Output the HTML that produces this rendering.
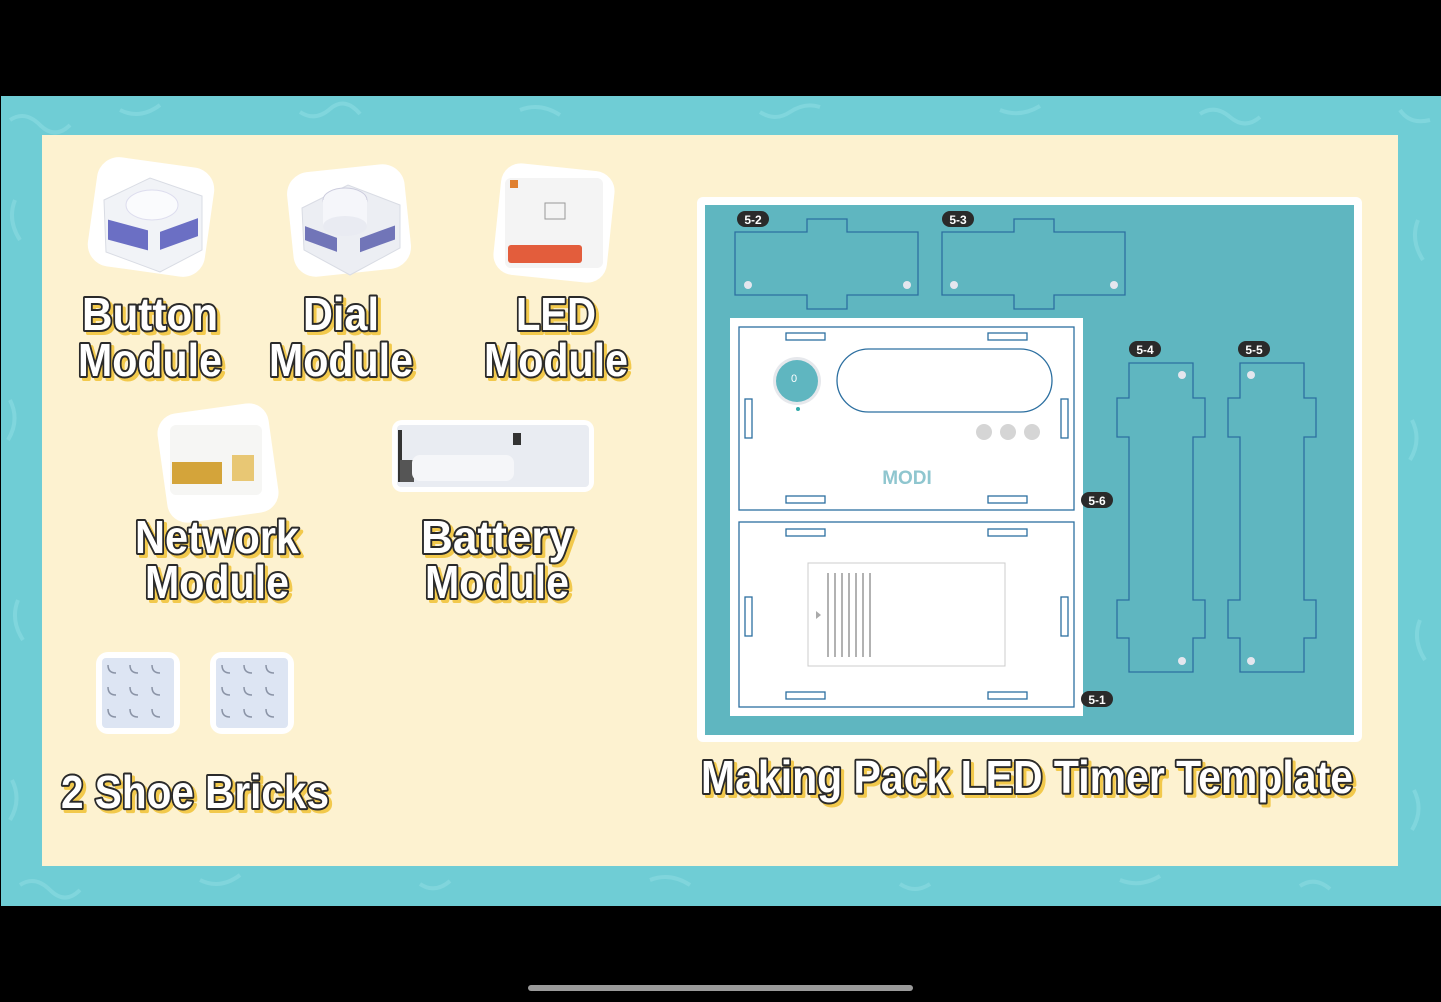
<!DOCTYPE html>
<html><head><meta charset="utf-8"><style>
html,body{margin:0;padding:0;background:#000;width:1441px;height:1002px;overflow:hidden}
svg{display:block}
.lb{font-family:"Liberation Sans Narrow","Liberation Sans",sans-serif;font-weight:bold;fill:#fff;stroke:#2a2a2a;stroke-width:4px;paint-order:stroke;stroke-linejoin:round}
.sh{font-family:"Liberation Sans Narrow","Liberation Sans",sans-serif;font-weight:bold;fill:#f2c94c;stroke:#f2c94c;stroke-width:4px;stroke-linejoin:round}
.tag{font-family:"Liberation Sans",sans-serif;font-weight:bold;font-size:12px;fill:#fff}
</style></head><body>
<svg width="1441" height="1002" viewBox="0 0 1441 1002" xmlns="http://www.w3.org/2000/svg">
<rect x="0" y="0" width="1441" height="1002" fill="#000"/>
<rect x="1" y="96" width="1440" height="810" fill="#6fcdd5"/>
<g stroke="#85d8de" stroke-width="4" fill="none" opacity="0.8">
<path d="M10 120 q15 -10 30 5 t30 0 M120 110 q20 10 40 -5 M300 112 q15 10 30 -3 t30 5 M520 110 q20 -8 40 5 M760 112 q15 10 30 0 t30 -5 M1000 110 q20 8 40 -4 M1200 114 q15 -10 30 3 t30 0 M1400 110 q10 15 30 10"/>
<path d="M20 885 q15 -10 30 5 t30 0 M200 880 q20 10 40 -5 M420 884 q15 10 30 -3 M650 880 q20 -8 40 5 M900 884 q15 10 30 0 M1120 880 q20 8 40 -4 M1300 886 q15 -10 30 3"/>
<path d="M15 200 q-8 20 5 40 M10 400 q10 20 -2 40 M18 600 q-8 20 5 40 M12 780 q10 20 -2 40 M1418 220 q-8 20 5 40 M1412 420 q10 20 -2 40 M1420 620 q-8 20 5 40 M1414 790 q10 20 -2 40"/>
</g>
<rect x="42" y="135" width="1356" height="731" fill="#fdf2d0"/>

<!-- module images -->
<g>
<rect x="92" y="162" width="118" height="110" rx="22" fill="#fff" transform="rotate(8 151 217)"/>
<path d="M104 200 L150 178 L202 196 L202 250 L160 272 L106 252Z" fill="#f1f3f7" stroke="#d9dce4"/>
<ellipse cx="152" cy="205" rx="26" ry="15" fill="#fafbfd" stroke="#dde"/>
<rect x="108" y="225" width="40" height="20" fill="#6b6fc4" transform="skewY(15)" transform-origin="128 235"/>
<rect x="160" y="225" width="38" height="18" fill="#6b6fc4" transform="skewY(-20)" transform-origin="179 234"/>

<rect x="290" y="168" width="118" height="105" rx="22" fill="#fff" transform="rotate(-6 349 220)"/>
<path d="M302 208 L348 185 L400 205 L400 248 L350 275 L304 250Z" fill="#eceef3" stroke="#d9dce4"/>
<ellipse cx="345" cy="200" rx="22" ry="12" fill="#f5f6fa" stroke="#ccd"/>
<rect x="323" y="200" width="44" height="26" fill="#f5f6fa"/>
<ellipse cx="345" cy="226" rx="22" ry="10" fill="#e9ebf2"/>
<rect x="305" y="232" width="32" height="14" fill="#7175b8" transform="skewY(20)" transform-origin="321 239"/>
<rect x="360" y="232" width="35" height="14" fill="#7175b8" transform="skewY(-20)" transform-origin="377 239"/>

<rect x="497" y="167" width="114" height="112" rx="20" fill="#fff" transform="rotate(6 554 223)"/>
<rect x="505" y="178" width="98" height="90" rx="6" fill="#f4f4f4"/>
<rect x="545" y="203" width="20" height="16" fill="none" stroke="#999"/>
<rect x="508" y="245" width="74" height="18" rx="3" fill="#e35d3c"/>
<rect x="583" y="245" width="17" height="18" fill="#f4f4f4"/>
<rect x="510" y="180" width="8" height="8" fill="#e08030"/>

<rect x="162" y="408" width="112" height="110" rx="20" fill="#fff" transform="rotate(-8 218 463)"/>
<rect x="170" y="425" width="92" height="70" rx="6" fill="#f6f6f4"/>
<rect x="172" y="462" width="50" height="22" fill="#d4a43a"/>
<rect x="232" y="455" width="22" height="26" fill="#e8c774"/>

<rect x="392" y="420" width="202" height="72" rx="10" fill="#fff" filter=""/>
<rect x="397" y="425" width="192" height="62" rx="4" fill="#e9ecf2"/>
<rect x="398" y="430" width="4" height="52" fill="#333"/>
<rect x="400" y="460" width="14" height="22" fill="#555"/>
<rect x="412" y="455" width="102" height="26" rx="8" fill="#f5f6f9"/>
<rect x="513" y="433" width="8" height="12" fill="#333"/>

<rect x="96" y="652" width="84" height="82" rx="12" fill="#fff"/>
<rect x="102" y="658" width="72" height="70" rx="4" fill="#dde5f3"/>
<rect x="210" y="652" width="84" height="82" rx="12" fill="#fff"/>
<rect x="216" y="658" width="72" height="70" rx="4" fill="#dde5f3"/>
<g fill="none" stroke="#8a93a6" stroke-width="1.5">
<path d="M108 665 q0 8 8 8 M130 665 q0 8 8 8 M152 665 q0 8 8 8 M108 687 q0 8 8 8 M130 687 q0 8 8 8 M152 687 q0 8 8 8 M108 709 q0 8 8 8 M130 709 q0 8 8 8 M152 709 q0 8 8 8"/>
<path d="M222 665 q0 8 8 8 M244 665 q0 8 8 8 M266 665 q0 8 8 8 M222 687 q0 8 8 8 M244 687 q0 8 8 8 M266 687 q0 8 8 8 M222 709 q0 8 8 8 M244 709 q0 8 8 8 M266 709 q0 8 8 8"/>
</g>
</g>

<!-- labels -->
<g font-size="46">
<text class="sh" x="153" y="333" text-anchor="middle" textLength="136" lengthAdjust="spacingAndGlyphs">Button</text>
<text class="lb" x="150" y="330" text-anchor="middle" textLength="136" lengthAdjust="spacingAndGlyphs">Button</text>
<text class="sh" x="153" y="379" text-anchor="middle" textLength="144" lengthAdjust="spacingAndGlyphs">Module</text>
<text class="lb" x="150" y="376" text-anchor="middle" textLength="144" lengthAdjust="spacingAndGlyphs">Module</text>
<text class="sh" x="344" y="333" text-anchor="middle" textLength="76" lengthAdjust="spacingAndGlyphs">Dial</text>
<text class="lb" x="341" y="330" text-anchor="middle" textLength="76" lengthAdjust="spacingAndGlyphs">Dial</text>
<text class="sh" x="344" y="379" text-anchor="middle" textLength="144" lengthAdjust="spacingAndGlyphs">Module</text>
<text class="lb" x="341" y="376" text-anchor="middle" textLength="144" lengthAdjust="spacingAndGlyphs">Module</text>
<text class="sh" x="559" y="333" text-anchor="middle" textLength="80" lengthAdjust="spacingAndGlyphs">LED</text>
<text class="lb" x="556" y="330" text-anchor="middle" textLength="80" lengthAdjust="spacingAndGlyphs">LED</text>
<text class="sh" x="559" y="379" text-anchor="middle" textLength="144" lengthAdjust="spacingAndGlyphs">Module</text>
<text class="lb" x="556" y="376" text-anchor="middle" textLength="144" lengthAdjust="spacingAndGlyphs">Module</text>
<text class="sh" x="220" y="556" text-anchor="middle" textLength="164" lengthAdjust="spacingAndGlyphs">Network</text>
<text class="lb" x="217" y="553" text-anchor="middle" textLength="164" lengthAdjust="spacingAndGlyphs">Network</text>
<text class="sh" x="220" y="601" text-anchor="middle" textLength="144" lengthAdjust="spacingAndGlyphs">Module</text>
<text class="lb" x="217" y="598" text-anchor="middle" textLength="144" lengthAdjust="spacingAndGlyphs">Module</text>
<text class="sh" x="500" y="556" text-anchor="middle" textLength="152" lengthAdjust="spacingAndGlyphs">Battery</text>
<text class="lb" x="497" y="553" text-anchor="middle" textLength="152" lengthAdjust="spacingAndGlyphs">Battery</text>
<text class="sh" x="500" y="601" text-anchor="middle" textLength="144" lengthAdjust="spacingAndGlyphs">Module</text>
<text class="lb" x="497" y="598" text-anchor="middle" textLength="144" lengthAdjust="spacingAndGlyphs">Module</text>
<text class="sh" x="198" y="811" text-anchor="middle" textLength="268" lengthAdjust="spacingAndGlyphs">2 Shoe Bricks</text>
<text class="lb" x="195" y="808" text-anchor="middle" textLength="268" lengthAdjust="spacingAndGlyphs">2 Shoe Bricks</text>
<text class="sh" x="1030" y="796" text-anchor="middle" textLength="652" lengthAdjust="spacingAndGlyphs">Making Pack LED Timer Template</text>
<text class="lb" x="1027" y="793" text-anchor="middle" textLength="652" lengthAdjust="spacingAndGlyphs">Making Pack LED Timer Template</text>
</g>

<!-- template -->
<rect x="697" y="197" width="665" height="545" rx="6" fill="#fff"/>
<rect x="705" y="205" width="649" height="530" fill="#5fb6c0"/>
<g fill="none" stroke="#2c6fa0" stroke-width="1.3">
<path d="M735 232 H807 V219 H847 V232 H918 V295 H847 V309 H807 V295 H735Z"/>
<path d="M942 232 H1014 V219 H1054 V232 H1125 V295 H1054 V309 H1014 V295 H942Z"/>
<path d="M1129 363 H1193 V398 H1205 V437 H1193 V600 H1205 V638 H1193 V672 H1129 V638 H1117 V600 H1129 V437 H1117 V398 H1129Z"/>
<path d="M1240 363 H1304 V398 H1316 V437 H1304 V600 H1316 V638 H1304 V672 H1240 V638 H1228 V600 H1240 V437 H1228 V398 H1240Z"/>
</g>
<g fill="#e4e6ee">
<circle cx="748" cy="285" r="4"/><circle cx="907" cy="285" r="4"/><circle cx="954" cy="285" r="4"/><circle cx="1114" cy="285" r="4"/>
<circle cx="1182" cy="375" r="4"/><circle cx="1182" cy="661" r="4"/><circle cx="1251" cy="375" r="4"/><circle cx="1251" cy="661" r="4"/>
</g>
<rect x="730" y="318" width="353" height="398" fill="#fff"/>
<g fill="none" stroke="#2c6fa0" stroke-width="1.3">
<rect x="739" y="327" width="335" height="183"/>
<rect x="739" y="522" width="335" height="185"/>
<rect x="786" y="333" width="39" height="7"/><rect x="988" y="333" width="39" height="7"/>
<rect x="786" y="496" width="39" height="7"/><rect x="988" y="496" width="39" height="7"/>
<rect x="786" y="529" width="39" height="7"/><rect x="988" y="529" width="39" height="7"/>
<rect x="786" y="692" width="39" height="7"/><rect x="988" y="692" width="39" height="7"/>
<rect x="745" y="399" width="7" height="39"/><rect x="1061" y="399" width="7" height="39"/>
<rect x="745" y="597" width="7" height="39"/><rect x="1061" y="597" width="7" height="39"/>
<rect x="837" y="349" width="215" height="63" rx="31.5"/>
</g>
<rect x="808" y="563" width="197" height="103" fill="#fff" stroke="#ccc"/>
<g stroke="#999" stroke-width="1.5"><path d="M828 573v84M835 573v84M842 573v84M849 573v84M856 573v84M863 573v84M870 573v84"/></g>
<path d="M816 611 l5 4 l-5 4z" fill="#aaa"/>
<circle cx="797" cy="381" r="24" fill="#e6e8ec"/>
<circle cx="797" cy="381" r="21" fill="#5fb6c0"/>
<text x="794" y="382" font-family="Liberation Sans" font-size="11" fill="#fff" text-anchor="middle">0</text>
<circle cx="798" cy="409" r="2" fill="#3aa"/>
<circle cx="984" cy="432" r="8" fill="#d5d5d5"/><circle cx="1008" cy="432" r="8" fill="#d5d5d5"/><circle cx="1032" cy="432" r="8" fill="#d5d5d5"/>
<text x="907" y="484" font-family="Liberation Sans" font-weight="bold" font-size="19" fill="#8fc6cf" text-anchor="middle">MODI</text>
<g>
<rect x="737" y="211" width="32" height="16" rx="8" fill="#2a2a2a"/><text class="tag" x="753" y="224" text-anchor="middle">5-2</text>
<rect x="942" y="211" width="32" height="16" rx="8" fill="#2a2a2a"/><text class="tag" x="958" y="224" text-anchor="middle">5-3</text>
<rect x="1129" y="341" width="32" height="16" rx="8" fill="#2a2a2a"/><text class="tag" x="1145" y="354" text-anchor="middle">5-4</text>
<rect x="1238" y="341" width="32" height="16" rx="8" fill="#2a2a2a"/><text class="tag" x="1254" y="354" text-anchor="middle">5-5</text>
<rect x="1081" y="492" width="32" height="16" rx="8" fill="#2a2a2a"/><text class="tag" x="1097" y="505" text-anchor="middle">5-6</text>
<rect x="1081" y="691" width="32" height="16" rx="8" fill="#2a2a2a"/><text class="tag" x="1097" y="704" text-anchor="middle">5-1</text>
</g>
<rect x="528" y="985" width="385" height="6" rx="3" fill="#9a9a9a"/>
</svg>
</body></html>
